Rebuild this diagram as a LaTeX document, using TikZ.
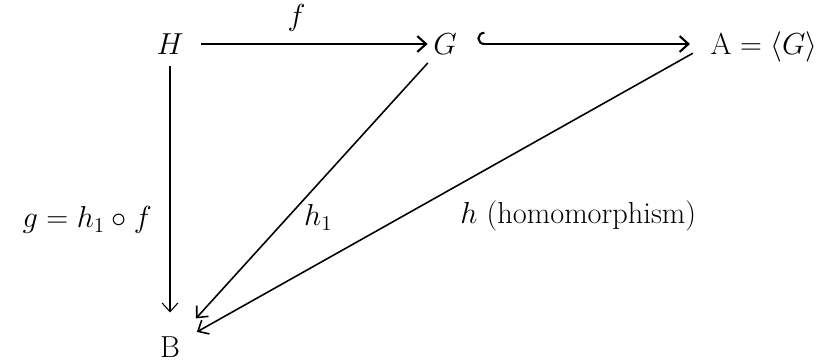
\documentclass[tikz,border=0pt]{standalone}
\usetikzlibrary{arrows.meta,positioning}

\begin{document}
\begin{tikzpicture}[
  x=0.2mm, y=-0.2mm, font=\LARGE,
  obj/.style={inner sep=3pt},
  heavy/.style={line width=1.2pt},
  diag/.style={line width=0.9pt},
  vert/.style={line width=0.6pt},
  >={Straight Barb[length=5pt,width=9pt]}]
\useasboundingbox (0,0) rectangle (828,362);
\node[obj] (H) at (170,44) {$H$};
\node[obj] (G) at (445,44) {$G$};
\node[obj, anchor=base west] (A) at (705,54) {$\mathrm{A} = \langle G\rangle$};
\node[obj] (B) at (170,347) {$\mathrm{B}$};
\draw[->, heavy, shorten <=2.4mm] (H) -- (G)
  node[pos=0.45, above=3pt] {$f$};
\draw[{Hooks[right,length=4pt,width=14pt]}->, heavy, shorten <=3mm,
  shorten >=3mm] (G.east) -- (G.east -| A.west);
\draw[->, vert, shorten <=1.1mm, shorten >=3.7mm] (H) -- (B)
  node[pos=0.59, left=6.8pt] {$g = h_1 \circ f$};
\draw[->, diag, shorten <=0.8mm, shorten >=3.4mm] (G) -- (B)
  node[pos=0.58, right=5.5pt] {$h_1$};
\draw[->, diag, shorten <=2.8mm, shorten >=2.6mm] (A.west) -- (B)
  node[pos=0.58, right=1cm] {$h$ (homomorphism)};
\end{tikzpicture}
\end{document}
